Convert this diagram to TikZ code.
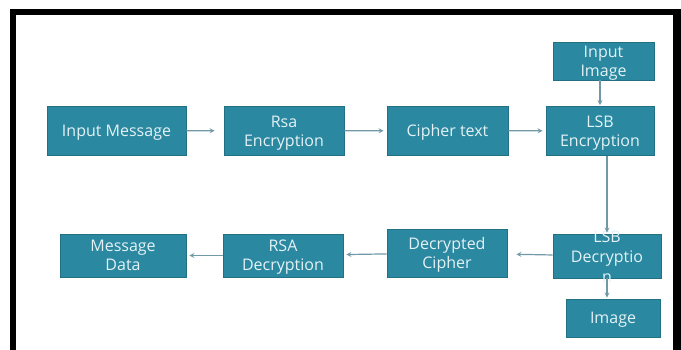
\documentclass[tikz,border=0pt]{standalone}
\usepackage{fontspec}
\setmainfont{Open Sans}
\usepackage{tikz}
\usetikzlibrary{arrows}

\definecolor{boxfill}{RGB}{42,136,160}
\definecolor{boxline}{RGB}{34,112,132}
\definecolor{boxtext}{RGB}{228,242,246}
\definecolor{linkcol}{RGB}{112,152,167}

\begin{document}
\begin{tikzpicture}[
            x = 1pt, y = -1pt, % pixel like units, y going down
            > = stealth, % arrow head style
            shorten > = 3pt, % small gap before the box
            line width = 1.2pt, % line style
            font = \fontsize{16}{19}\selectfont
        ]

        \tikzstyle{block}=[
            draw = boxline,
            line width = 0.8pt,
            fill = boxfill,
            text = boxtext,
            align = center,
            text depth = -2pt, % sit the text a bit lower
            inner sep = 0pt
        ]
        \tikzstyle{link}=[
            ->,
            draw = linkcol
        ]

        \useasboundingbox (0,0) rectangle (681,350);

        % black frame
        \fill[black] (10,9) rectangle (681,15);
        \fill[black] (10,9) rectangle (16,350);
        \fill[black] (673,9) rectangle (681,350);

        \node[block, minimum width=139pt, minimum height=49pt] (inmsg)  at (116.5,130.5) {Input Message};
        \node[block, minimum width=120pt, minimum height=49pt] (rsaenc) at (284,131)     {Rsa\\Encryption};
        \node[block, minimum width=121pt, minimum height=49pt] (ctext)  at (447.5,130.5) {Cipher text};
        \node[block, minimum width=108pt, minimum height=49pt] (lsbenc) at (600,131)     {LSB\\Encryption};
        \node[block, minimum width=101pt, minimum height=38pt] (inimg)  at (603.5,61)    {Input\\Image};

        \node[block, minimum width=108pt, minimum height=44pt] (lsbdec) at (607,256)     {};
        \node[text=boxtext, align=center, inner sep=0pt, font=\fontsize{16}{20}\selectfont] (lsbdectxt) at (607,257) {LSB\\Decryptio\\n};
        \node[block, minimum width=94pt,  minimum height=38pt] (img)    at (613,318)     {Image};
        \node[block, minimum width=120pt, minimum height=48pt] (deccip) at (447,253)     {Decrypted\\Cipher};
        \node[block, minimum width=120pt, minimum height=43pt] (rsadec) at (283,255.5)   {RSA\\Decryption};
        \node[block, minimum width=126pt, minimum height=43pt] (msgdata) at (123,255.5)  {Message\\Data};

        % top row
        \draw[link, shorten > = 9pt] (inmsg) -- (rsaenc);
        \draw[link] (rsaenc) -- (ctext);
        \draw[link] (ctext) -- (lsbenc);
        \draw[link, shorten > = 1pt] (inimg.south -| lsbenc.north) -- (lsbenc.north);

        % down and back
        \draw[link, shorten > = 1pt] (lsbenc.south -| lsbdec.north) -- (lsbdec.north);
        \draw[link, shorten > = 1pt] (lsbdec.south) -- (lsbdec.south |- img.north);
        \draw[link, shorten > = 9pt] (lsbdec) -- (deccip);
        \draw[link] (deccip) -- (rsadec);
        \draw[link] (rsadec) -- (msgdata);
    \end{tikzpicture}
\end{document}
